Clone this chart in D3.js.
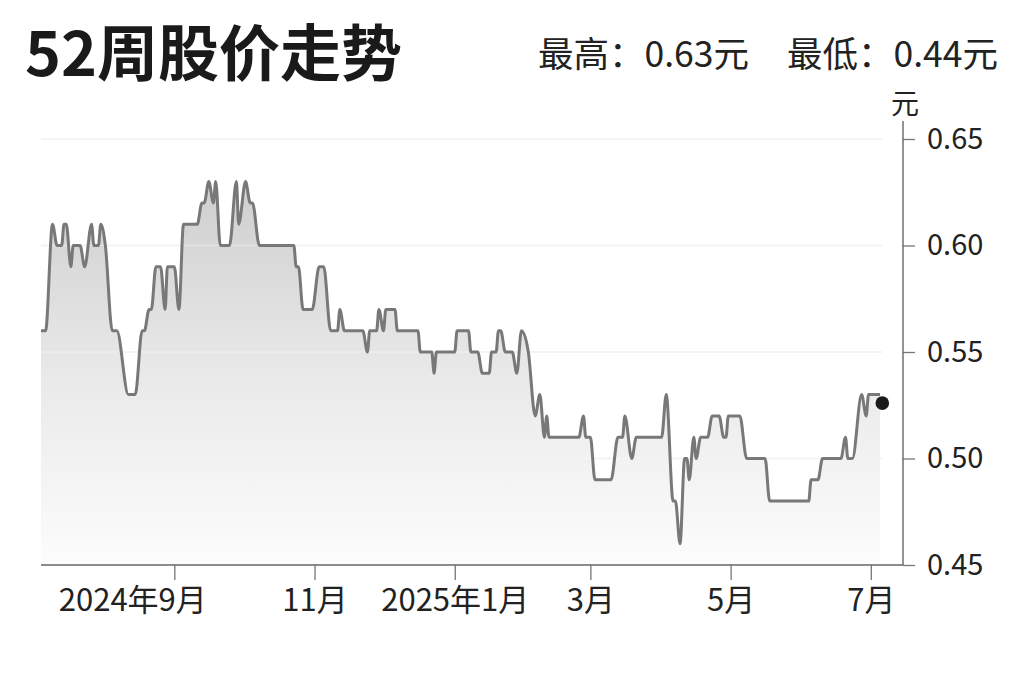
<!DOCTYPE html>
<html>
<head>
<meta charset="utf-8">
<script src="https://cdn.jsdelivr.net/npm/d3@7"></script>
<style>
  html, body { margin: 0; padding: 0; background: #ffffff; }
  svg { display: block; font-family: "Noto Sans CJK SC", "Noto Sans", sans-serif; }
</style>
</head>
<body>
<svg id="chart" width="1024" height="682"></svg>
<script>
// ---------- data ----------
const titleText = "52周股价走势";
const highText = "最高：0.63元";
const lowText = "最低：0.44元";
const unitText = "元";

const priceDates = [
  "2024-07-05","2024-07-07","2024-07-10","2024-07-12","2024-07-14","2024-07-15","2024-07-16","2024-07-18",
  "2024-07-19","2024-07-22","2024-07-24","2024-07-27","2024-07-28","2024-07-30","2024-07-31","2024-08-02",
  "2024-08-05","2024-08-07","2024-08-12","2024-08-15","2024-08-18","2024-08-19","2024-08-21","2024-08-22",
  "2024-08-24","2024-08-26","2024-08-28","2024-08-29","2024-09-01","2024-09-03","2024-09-05","2024-09-11",
  "2024-09-13","2024-09-14","2024-09-16","2024-09-18","2024-09-19","2024-09-21","2024-09-25","2024-09-28",
  "2024-09-29","2024-10-02","2024-10-04","2024-10-05","2024-10-08","2024-10-23","2024-10-24","2024-10-25",
  "2024-10-27","2024-10-31","2024-11-03","2024-11-05","2024-11-08","2024-11-11","2024-11-12","2024-11-14",
  "2024-11-22","2024-11-24","2024-11-25","2024-11-28","2024-11-29","2024-12-01","2024-12-02","2024-12-06",
  "2024-12-07","2024-12-16","2024-12-17","2024-12-22","2024-12-23","2024-12-24","2025-01-01","2025-01-02",
  "2025-01-07","2025-01-08","2025-01-11","2025-01-13","2025-01-16","2025-01-17","2025-01-19","2025-01-20",
  "2025-01-21","2025-01-23","2025-01-26","2025-01-28","2025-01-30","2025-02-02","2025-02-05","2025-02-07",
  "2025-02-09","2025-02-10","2025-02-11","2025-02-24","2025-02-26","2025-02-27","2025-03-01","2025-03-03",
  "2025-03-10","2025-03-13","2025-03-15","2025-03-16","2025-03-19","2025-03-21","2025-04-01","2025-04-03",
  "2025-04-06","2025-04-07","2025-04-09","2025-04-11","2025-04-12","2025-04-13","2025-04-15","2025-04-16",
  "2025-04-18","2025-04-21","2025-04-23","2025-04-26","2025-04-28","2025-04-29","2025-04-30","2025-05-05",
  "2025-05-08","2025-05-16","2025-05-18","2025-06-04","2025-06-05","2025-06-08","2025-06-10","2025-06-18",
  "2025-06-20","2025-06-21","2025-06-23","2025-06-27","2025-06-29","2025-06-30","2025-07-05"
];
const priceValues = [
  0.56,0.56,0.61,0.60,0.60,0.61,0.61,0.59,
  0.60,0.60,0.59,0.61,0.60,0.60,0.61,0.60,
  0.56,0.56,0.53,0.53,0.56,0.56,0.57,0.57,
  0.59,0.59,0.57,0.59,0.59,0.57,0.61,0.61,
  0.62,0.62,0.63,0.62,0.63,0.60,0.60,0.63,
  0.61,0.63,0.62,0.62,0.60,0.60,0.59,0.59,
  0.57,0.57,0.59,0.59,0.56,0.56,0.57,0.56,
  0.56,0.55,0.56,0.56,0.57,0.56,0.57,0.57,
  0.56,0.56,0.55,0.55,0.54,0.55,0.55,0.56,
  0.56,0.55,0.55,0.54,0.54,0.55,0.55,0.56,
  0.56,0.55,0.55,0.54,0.56,0.55,0.52,0.53,
  0.51,0.52,0.51,0.51,0.52,0.51,0.51,0.49,
  0.49,0.51,0.51,0.52,0.50,0.51,0.51,0.53,
  0.48,0.48,0.46,0.50,0.50,0.49,0.51,0.50,
  0.51,0.51,0.52,0.52,0.51,0.51,0.52,0.52,
  0.50,0.50,0.48,0.48,0.49,0.49,0.50,0.50,
  0.51,0.50,0.50,0.53,0.52,0.53,0.53
];
const lastDate = "2025-07-06";
const lastValue = 0.526;

const xTickDates = ["2024-09-01","2024-11-01","2025-01-01","2025-03-01","2025-05-01","2025-07-01"];
const xTickLabels = ["2024年9月","11月","2025年1月","3月","5月","7月"];
const yTickValues = [0.45, 0.50, 0.55, 0.60, 0.65];
const yTickLabels = ["0.45","0.50","0.55","0.60","0.65"];
const xDomain = ["2024-07-05","2025-07-15"];
const yDomain = [0.45, 0.65];

(function () {
// ---------- layout ----------
const parse = d3.timeParse("%Y-%m-%d");
const svg = d3.select("#chart");
const pLeft = 41, pRight = 903, pTop = 139, pBottom = 565, plotEnd = 882;

const x = d3.scaleTime().domain(xDomain.map(parse)).range([pLeft, pRight]);
const y = d3.scaleLinear().domain(yDomain).range([pBottom, pTop]);

const data = priceDates.map((d, i) => ({ date: parse(d), value: priceValues[i] }));

// title & header
svg.append("text").attr("x", 25).attr("y", 76)
  .attr("font-size", 61).attr("font-weight", 700).attr("fill", "#1a1a1a")
  .text(titleText);
svg.append("text").attr("x", 749).attr("y", 67).attr("text-anchor", "end")
  .attr("font-size", 35.5).attr("fill", "#222").text(highText);
svg.append("text").attr("x", 998).attr("y", 67).attr("text-anchor", "end")
  .attr("font-size", 35.5).attr("fill", "#222").text(lowText);

// gradient
const defs = svg.append("defs");
const grad = defs.append("linearGradient").attr("id", "areaGrad")
  .attr("gradientUnits", "userSpaceOnUse")
  .attr("x1", 0).attr("x2", 0).attr("y1", y(0.63)).attr("y2", pBottom);
grad.append("stop").attr("offset", "0%").attr("stop-color", "#c9c9c9");
grad.append("stop").attr("offset", "55%").attr("stop-color", "#e9e9e9");
grad.append("stop").attr("offset", "100%").attr("stop-color", "#fcfcfc");

// gridlines
svg.append("g").selectAll("line").data(yTickValues.slice(1)).join("line")
  .attr("x1", pLeft).attr("x2", plotEnd)
  .attr("y1", d => y(d)).attr("y2", d => y(d))
  .attr("stroke", "#ebebeb").attr("stroke-width", 1.5);

// area
const area = d3.area().x(d => x(d.date)).y0(pBottom).y1(d => y(d.value)).curve(d3.curveMonotoneX);
svg.append("path").datum(data).attr("d", area).attr("fill", "url(#areaGrad)").attr("opacity", 0.9);

// gridlines over area (faint)
svg.append("g").selectAll("line").data(yTickValues.slice(1)).join("line")
  .attr("x1", pLeft).attr("x2", plotEnd)
  .attr("y1", d => y(d)).attr("y2", d => y(d))
  .attr("stroke", "#ffffff").attr("stroke-opacity", 0.35).attr("stroke-width", 1.5);

// line
const line = d3.line().x(d => x(d.date)).y(d => y(d.value)).curve(d3.curveMonotoneX);
svg.append("path").datum(data).attr("d", line)
  .attr("fill", "none").attr("stroke", "#787878").attr("stroke-width", 3)
  .attr("stroke-linejoin", "round");

// last dot
svg.append("circle").attr("cx", x(parse(lastDate))).attr("cy", y(lastValue))
  .attr("r", 6.8).attr("fill", "#1a1a1a");

// x axis
const xAxis = d3.axisBottom(x)
  .tickValues(xTickDates.map(parse))
  .tickFormat((d, i) => xTickLabels[i])
  .tickSize(15).tickPadding(9);
const gx = svg.append("g").attr("transform", `translate(0,${pBottom})`).call(xAxis);
gx.select(".domain").remove();
gx.selectAll(".tick line").attr("stroke", "#777").attr("stroke-width", 1.3);
gx.selectAll(".tick text").attr("font-size", 31).attr("fill", "#222")
  .attr("font-family", "Noto Sans CJK SC")
  .attr("text-anchor", (d, i) => i === 0 ? "end" : "middle")
  .attr("dx", (d, i) => i === 0 ? 32 : 0);
svg.append("line").attr("x1", pLeft).attr("x2", pRight).attr("y1", pBottom).attr("y2", pBottom)
  .attr("stroke", "#666").attr("stroke-width", 1.4);

// y axis
const yAxis = d3.axisRight(y)
  .tickValues(yTickValues)
  .tickFormat((d, i) => yTickLabels[i])
  .tickSize(12).tickPadding(12);
const gy = svg.append("g").attr("transform", `translate(${pRight},0)`).call(yAxis);
gy.select(".domain").remove();
gy.selectAll(".tick line").attr("stroke", "#777").attr("stroke-width", 1.3);
gy.selectAll(".tick text").attr("font-size", 29).attr("fill", "#222")
  .attr("font-family", "Noto Sans CJK SC");
svg.append("line").attr("x1", pRight).attr("x2", pRight).attr("y1", 121).attr("y2", pBottom)
  .attr("stroke", "#666").attr("stroke-width", 1.4);

// unit
svg.append("text").attr("x", pRight + 2).attr("y", 114).attr("text-anchor", "middle")
  .attr("font-size", 28).attr("fill", "#222").text(unitText);
})();
</script>
</body>
</html>
